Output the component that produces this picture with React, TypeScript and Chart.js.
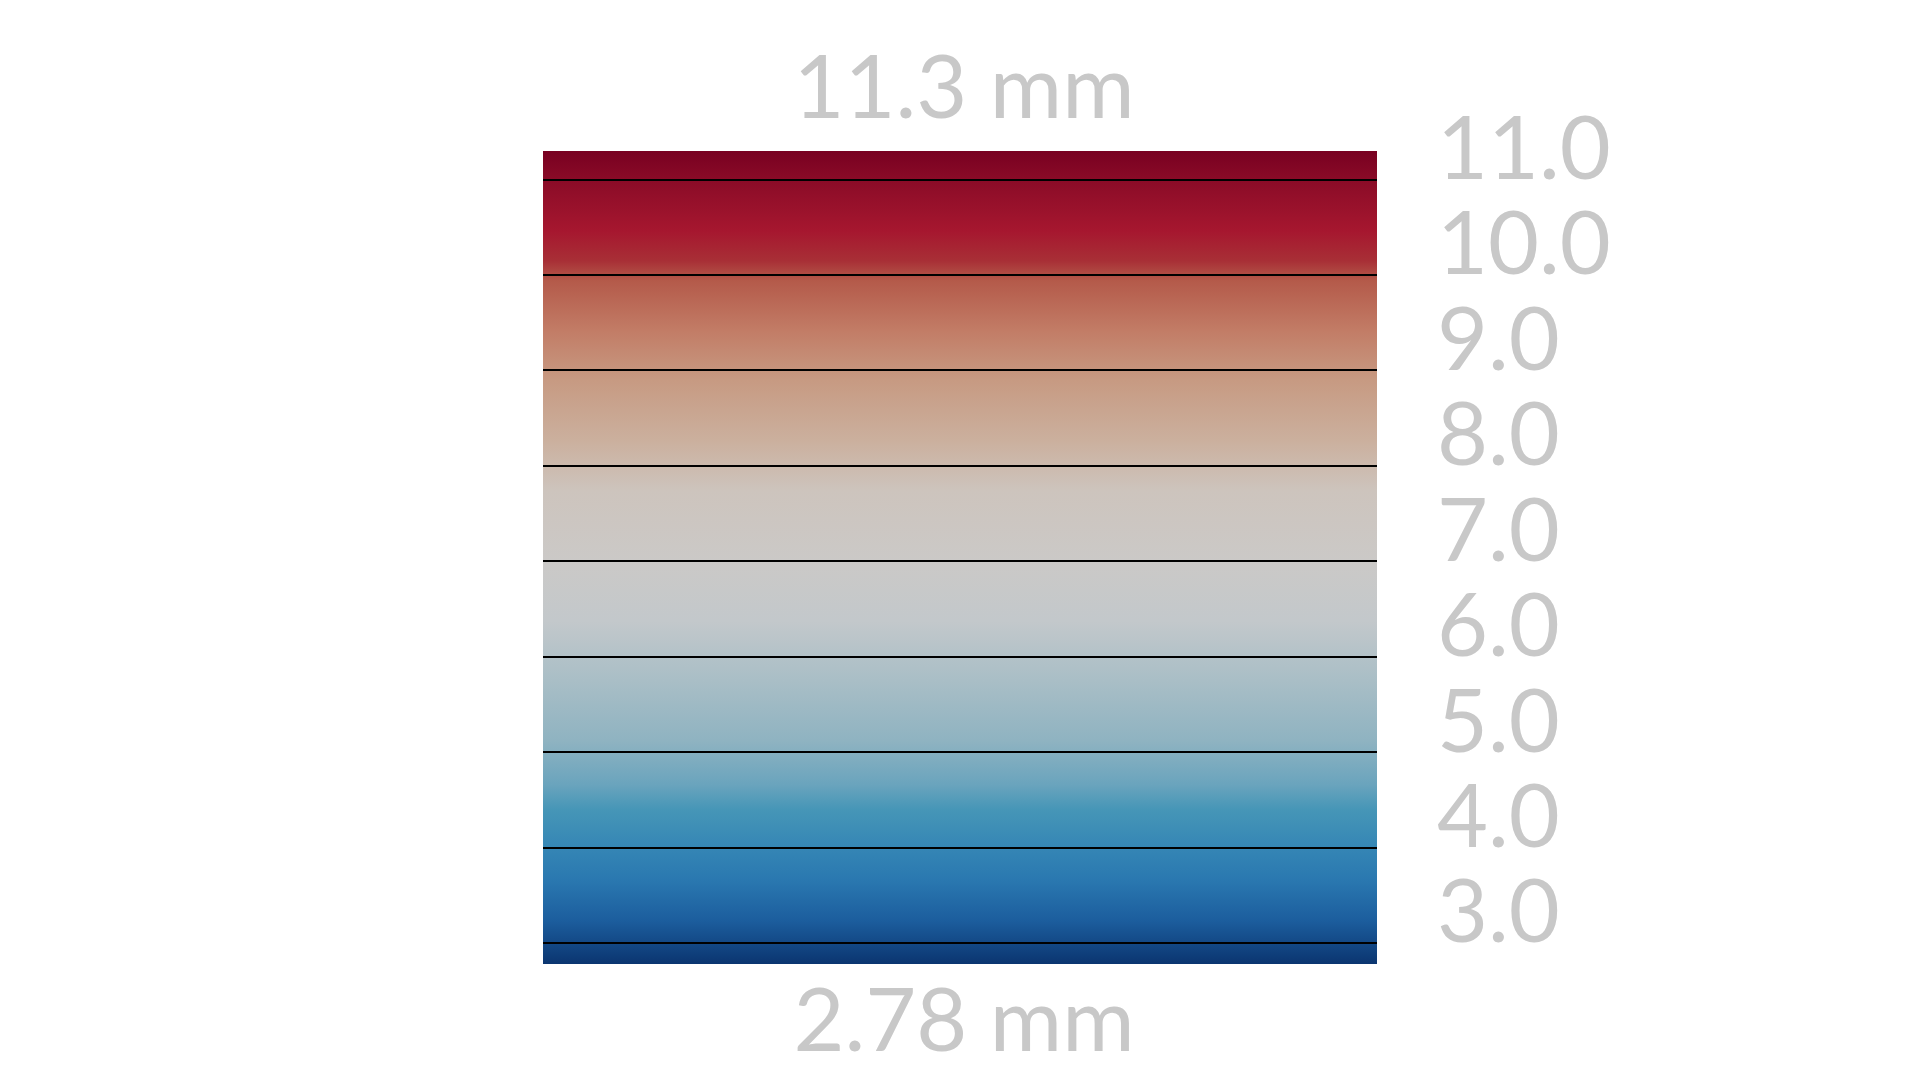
import React, { useEffect, useRef } from "react";
import { Chart, registerables } from "chart.js";

Chart.register(...registerables);

// Range of the colour bar (mm)
const rangeMin = 2.78;
const rangeMax = 11.3;

// Tick values shown on the right
const tickValues = [3, 4, 5, 6, 7, 8, 9, 10, 11];

// Colour ramp stops (value -> colour)
const stopValues = [11.3, 11.0, 10.46, 10.15, 9.94, 9.42, 8.9, 8.26, 7.74, 7.0, 6.38, 5.75, 5.12, 4.66, 4.4, 4.0, 3.66, 3.24, 2.78];
const stopColors = [
  "#780021", "#8a0b27", "#a6172f", "#a82f36", "#b45a4a", "#c27c66", "#c79a82", "#cbb09e",
  "#cdc4bd", "#cbc9c7", "#c3c8cb", "#a9bec6", "#8fb3c1", "#6aa4bd", "#4696b7", "#3586b5",
  "#2a78b0", "#1c5e9e", "#0b3570",
];

const categories = [""];
const barValues: [number, number][] = [[rangeMin, rangeMax]];

const FONT = "Lato, 'Open Sans', sans-serif";
const TEXT_COLOR = "#c8c8c8";

export default function App() {
  const canvasRef = useRef<HTMLCanvasElement | null>(null);

  useEffect(() => {
    document.body.style.margin = "0";
    const canvas = canvasRef.current;
    if (!canvas) return;

    const endLabels = {
      id: "endLabels",
      afterDraw(chart: any) {
        const { ctx, chartArea } = chart;
        ctx.save();
        ctx.fillStyle = TEXT_COLOR;
        ctx.font = `88px ${FONT}`;
        ctx.textAlign = "center";
        ctx.textBaseline = "alphabetic";
        const cx = (chartArea.left + chartArea.right) / 2 + 4;
        ctx.fillText(`${rangeMax} mm`, cx, chartArea.top - 33);
        ctx.fillText(`${rangeMin} mm`, cx, chartArea.bottom + 87);
        ctx.restore();
      },
    };

    const chart = new Chart(canvas, {
      type: "bar",
      data: {
        labels: categories,
        datasets: [
          {
            data: barValues as any,
            borderWidth: 0,
            barPercentage: 1,
            categoryPercentage: 1,
            backgroundColor: (c: any) => {
              const ch = c.chart;
              const { chartArea, scales } = ch;
              if (!chartArea || !scales.y) return stopColors[0];
              const y0 = scales.y.getPixelForValue(rangeMax);
              const y1 = scales.y.getPixelForValue(rangeMin);
              const g = ch.ctx.createLinearGradient(0, y0, 0, y1);
              stopValues.forEach((v, i) => {
                const p = scales.y.getPixelForValue(v);
                const off = Math.min(1, Math.max(0, (p - y0) / (y1 - y0)));
                g.addColorStop(off, stopColors[i]);
              });
              return g;
            },
          },
        ],
      },
      options: {
        responsive: false,
        animation: false,
        devicePixelRatio: 1,
        layout: { padding: { left: 543, top: 151, bottom: 116, right: 0 } },
        plugins: {
          legend: { display: false },
          tooltip: { enabled: false },
          title: { display: false },
        },
        scales: {
          x: { display: false },
          y: {
            position: "right",
            min: rangeMin,
            max: rangeMax,
            afterBuildTicks: (scale: any) => {
              scale.ticks = tickValues.map((v) => ({ value: v }));
            },
            afterFit: (scale: any) => {
              scale.width = 543;
            },
            border: { display: false },
            grid: {
              color: "#000000",
              lineWidth: 2,
              drawTicks: false,
              z: 1,
            },
            ticks: {
              autoSkip: false,
              padding: 60,
              labelOffset: -29,
              color: TEXT_COLOR,
              font: { family: FONT, size: 88 },
              callback: (v: any) => Number(v).toFixed(1),
            },
          },
        },
      },
      plugins: [endLabels],
    });

    return () => chart.destroy();
  }, []);

  return (
    <div style={{ position: "absolute", left: 0, top: 0, width: 1920, height: 1080, background: "#fff" }}>
      <canvas ref={canvasRef} width={1920} height={1080} />
    </div>
  );
}
